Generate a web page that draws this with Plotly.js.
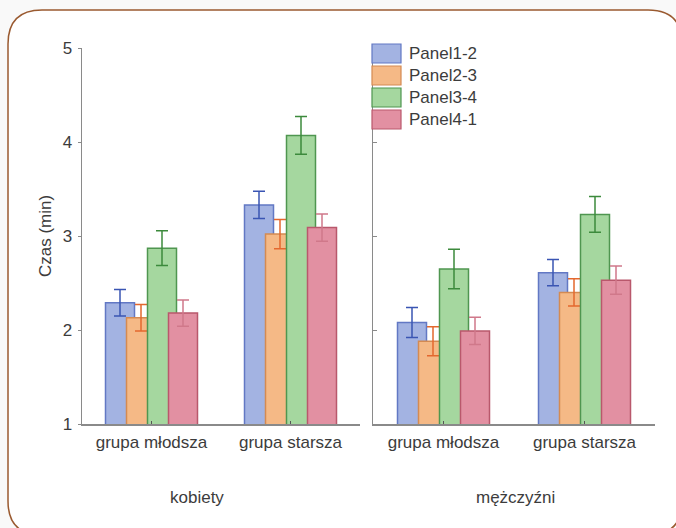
<!DOCTYPE html>
<html>
<head>
<meta charset="utf-8">
<script src="https://cdn.plot.ly/plotly-3.0.1.min.js"></script>
<style>
html,body{margin:0;padding:0;background:#f9f9f9;}
#chart{width:676px;height:528px;}
</style>
</head>
<body>
<div id="chart"></div>
<script>
// ---- data ----
const categories = ['grupa młodsza', 'grupa starsza'];
const panels = ['kobiety', 'mężczyźni'];
const seriesNames = ['Panel1-2', 'Panel2-3', 'Panel3-4', 'Panel4-1'];
const yTitle = 'Czas (min)';
// values ordered: kobiety młodsza, kobiety starsza, mężczyźni młodsza, mężczyźni starsza
const panel12 = [2.29, 3.33, 2.08, 2.61];
const panel23 = [2.13, 3.02, 1.88, 2.40];
const panel34 = [2.87, 4.07, 2.65, 3.23];
const panel41 = [2.18, 3.09, 1.99, 2.53];
const panel12Err = [0.14, 0.145, 0.16, 0.14];
const panel23Err = [0.14, 0.155, 0.155, 0.145];
const panel34Err = [0.185, 0.2, 0.21, 0.19];
const panel41Err = [0.14, 0.145, 0.145, 0.15];
const yTicks = [1, 2, 3, 4, 5];

// ---- styles ----
const fills = ['#a3b3e2', '#f5b986', '#a5d79f', '#e290a2'];
const lines = ['#6278c4', '#d48a52', '#4f9650', '#b9586c'];
const errCols = ['#3a55b3', '#e4682e', '#3c8a3c', '#d0788a'];
const values = [panel12, panel23, panel34, panel41];
const errs = [panel12Err, panel23Err, panel34Err, panel41Err];

const W = 676, H = 528;
const leftPx = [82, 360], rightPx = [373, 655];
const topPx = 48, botPx = 424;
const barPx = 29, stepPx = 21, startPx = -46;
const font = 'Liberation Sans, Arial, sans-serif';
const txt = '#3c3c3c';

const traces = [];
[[leftPx, 'x', 'y', 0], [rightPx, 'x2', 'y2', 2]].forEach(([px, xa, ya, base]) => {
  const ppu = (px[1] - px[0]) / 2;
  for (let i = 0; i < 4; i++) {
    traces.push({
      type: 'bar',
      name: seriesNames[i],
      x: categories,
      y: values[i].slice(base, base + 2),
      xaxis: xa, yaxis: ya,
      offset: (startPx + stepPx * i) / ppu,
      width: barPx / ppu,
      marker: {color: fills[i], line: {color: lines[i], width: 1.5}},
      error_y: {type: 'data', array: errs[i].slice(base, base + 2), color: errCols[i], thickness: 1.5, width: 6},
      showlegend: false,
      hoverinfo: 'skip'
    });
  }
});

const X = p => p / W, Y = p => 1 - p / H;
// rounded frame
const fl = 8, ft = 10, fr = 682, fb = 535, r = 34;
const framePath = `M ${X(fl)},${Y(ft + r)} Q ${X(fl)},${Y(ft)} ${X(fl + r)},${Y(ft)} L ${X(fr - r)},${Y(ft)} Q ${X(fr)},${Y(ft)} ${X(fr)},${Y(ft + r)} L ${X(fr)},${Y(fb - r)} Q ${X(fr)},${Y(fb)} ${X(fr - r)},${Y(fb)} L ${X(fl + r)},${Y(fb)} Q ${X(fl)},${Y(fb)} ${X(fl)},${Y(fb - r)} Z`;

const shapes = [{
  type: 'path', xref: 'paper', yref: 'paper', path: framePath,
  line: {color: '#9a5a30', width: 1.5}, fillcolor: '#ffffff', layer: 'below'
}];
const annotations = [];
// custom legend
for (let i = 0; i < 4; i++) {
  const t = 44 + 22 * i;
  shapes.push({
    type: 'rect', xref: 'paper', yref: 'paper',
    x0: X(372), x1: X(401), y0: Y(t + 19), y1: Y(t),
    fillcolor: fills[i], line: {color: lines[i], width: 1.2}, layer: 'above'
  });
  annotations.push({
    xref: 'paper', yref: 'paper', x: X(407), y: Y(t + 9.5),
    xanchor: 'left', yanchor: 'middle', showarrow: false,
    text: seriesNames[i], font: {family: font, size: 17, color: txt}
  });
}
// panel labels
annotations.push({xref: 'paper', yref: 'paper', x: X(197), y: Y(497), xanchor: 'center', yanchor: 'middle',
  showarrow: false, text: panels[0], font: {family: font, size: 17, color: txt}});
annotations.push({xref: 'paper', yref: 'paper', x: X(515), y: Y(497), xanchor: 'center', yanchor: 'middle',
  showarrow: false, text: panels[1], font: {family: font, size: 17, color: txt}});
// y axis title
annotations.push({xref: 'paper', yref: 'paper', x: X(45), y: Y(236), xanchor: 'center', yanchor: 'middle',
  textangle: -90, showarrow: false, text: yTitle, font: {family: font, size: 17, color: txt}});

const axCommon = {
  showline: true, linecolor: '#8a8a8a', linewidth: 1.5, showgrid: false, zeroline: false,
  tickfont: {family: font, size: 17, color: txt}, fixedrange: true
};
const yDom = [(H - botPx) / H, (H - topPx) / H];

const layout = {
  width: W, height: H,
  margin: {l: 0, r: 0, t: 0, b: 0},
  paper_bgcolor: '#f9f9f9', plot_bgcolor: 'rgba(0,0,0,0)',
  barmode: 'overlay',
  showlegend: false,
  xaxis: Object.assign({}, axCommon, {domain: [X(leftPx[0]), X(leftPx[1])], range: [-0.5, 1.5], anchor: 'y',
    ticks: 'inside', ticklen: 3, tickcolor: '#555', type: 'category', ticklabelstandoff: 2}),
  xaxis2: Object.assign({}, axCommon, {domain: [X(rightPx[0]), X(rightPx[1])], range: [-0.5, 1.5], anchor: 'y2',
    ticks: 'inside', ticklen: 3, tickcolor: '#555', type: 'category', ticklabelstandoff: 2}),
  yaxis: Object.assign({}, axCommon, {domain: yDom, range: [1, 5], anchor: 'x', tickvals: yTicks,
    ticks: 'outside', ticklen: 3, tickcolor: '#8a8a8a', ticklabelstandoff: 2}),
  yaxis2: Object.assign({}, axCommon, {domain: yDom, range: [1, 5], anchor: 'x2', tickvals: yTicks,
    ticks: 'inside', ticklen: 4, tickcolor: '#8a8a8a', showticklabels: false}),
  shapes: shapes,
  annotations: annotations
};

Plotly.newPlot('chart', traces, layout, {displayModeBar: false, staticPlot: true});
</script>
</body>
</html>
